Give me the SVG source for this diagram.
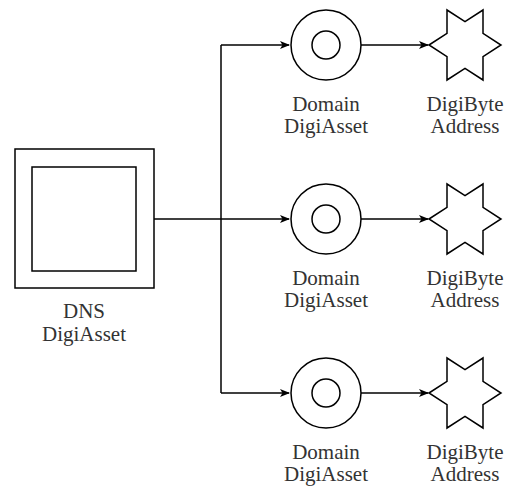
<svg xmlns="http://www.w3.org/2000/svg" width="506" height="486" viewBox="0 0 506 486">
<style>
.s{fill:#fff;stroke:#000;stroke-width:1.5}
.c{fill:none;stroke:#000;stroke-width:1.5}
.t{font-family:"Liberation Serif","Times New Roman",serif;font-size:21px;fill:#333;text-anchor:middle}
</style>
<defs>
<marker id="a" markerWidth="10" markerHeight="10" refX="9" refY="5" orient="auto" markerUnits="userSpaceOnUse">
<path d="M0,1 L10,5 L0,9 L2.5,5 Z" fill="#000"/>
</marker>
<path id="star" d="M-36,0 L-18,-11.7 L-18,-35 L0,-23.3 L18,-35 L18,-11.7 L36,0 L18,11.7 L18,35 L0,23.3 L-18,35 L-18,11.7 Z"/>
</defs>
<rect width="506" height="486" fill="#fff"/>
<g id="connectors">
<path class="c" d="M154,219 H221"/>
<path class="c" d="M221,45 V393"/>
<path class="c" d="M221,45 H289" marker-end="url(#a)"/>
<path class="c" d="M221,219 H289" marker-end="url(#a)"/>
<path class="c" d="M221,393 H289" marker-end="url(#a)"/>
<path class="c" d="M361,45 H428" marker-end="url(#a)"/>
<path class="c" d="M361,219 H428" marker-end="url(#a)"/>
<path class="c" d="M361,393 H428" marker-end="url(#a)"/>
</g>
<g id="dns">
<rect class="s" x="15" y="149" width="139" height="139"/>
<rect class="s" x="32" y="167" width="104" height="104"/>
<text class="t" x="84" y="318">DNS</text>
<text class="t" x="84" y="341">DigiAsset</text>
</g>
<g id="domain1">
<circle class="s" cx="326" cy="45" r="35"/>
<circle class="s" cx="326" cy="45" r="14"/>
<text class="t" x="326" y="111">Domain</text>
<text class="t" x="326" y="133">DigiAsset</text>
</g>
<g id="domain2">
<circle class="s" cx="326" cy="219" r="35"/>
<circle class="s" cx="326" cy="219" r="14"/>
<text class="t" x="326" y="285">Domain</text>
<text class="t" x="326" y="307">DigiAsset</text>
</g>
<g id="domain3">
<circle class="s" cx="326" cy="393" r="35"/>
<circle class="s" cx="326" cy="393" r="14"/>
<text class="t" x="326" y="459">Domain</text>
<text class="t" x="326" y="481">DigiAsset</text>
</g>
<g id="address1">
<use href="#star" class="s" x="465" y="45"/>
<text class="t" x="465" y="111">DigiByte</text>
<text class="t" x="465" y="133">Address</text>
</g>
<g id="address2">
<use href="#star" class="s" x="465" y="219"/>
<text class="t" x="465" y="285">DigiByte</text>
<text class="t" x="465" y="307">Address</text>
</g>
<g id="address3">
<use href="#star" class="s" x="465" y="393"/>
<text class="t" x="465" y="459">DigiByte</text>
<text class="t" x="465" y="481">Address</text>
</g>
</svg>
